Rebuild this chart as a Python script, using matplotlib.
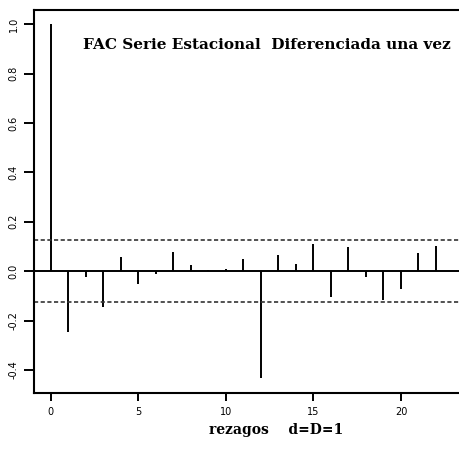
import numpy as np
import matplotlib.pyplot as plt

# FAC (autocorrelation) of the seasonal series, differenced once
lags = list(range(0, 23))
acf = [1.0, -0.247, -0.023, -0.144, 0.058, -0.051, -0.011, 0.077, 0.026, 0.004,
       0.010, 0.050, -0.434, 0.064, 0.030, 0.111, -0.104, 0.097, -0.023, -0.116,
       -0.070, 0.072, 0.104]
conf = 0.126
yticks = [-0.4, -0.2, 0.0, 0.2, 0.4, 0.6, 0.8, 1.0]
xticks = [0, 5, 10, 15, 20]

fig = plt.figure(figsize=(4.6, 4.57), dpi=100)
ax = fig.add_axes([0.074, 0.140, 0.95, 0.838])

ax.vlines(lags, 0, acf, color='black', linewidth=1.4)
ax.axhline(0, color='black', linewidth=1.4)
ax.axhline(conf, color='#333333', linewidth=1.2, linestyle=(0, (2.5, 1.5)))
ax.axhline(-conf, color='#333333', linewidth=1.2, linestyle=(0, (2.5, 1.5)))

ax.set_xlim(-0.94, 24.0)
ax.set_ylim(-0.493, 1.057)
ax.set_yticks(yticks)
ax.set_yticklabels([f"{v:.1f}" for v in yticks], rotation=90, va='center',
                   fontsize=7)
ax.set_xticks(xticks)
ax.set_xticklabels([str(v) for v in xticks], fontsize=7)
ax.tick_params(axis='y', direction='out', length=7, width=1.4, pad=4)
ax.tick_params(axis='x', direction='out', length=6, width=1.4, pad=4)

for s in ['left', 'bottom', 'top']:
    ax.spines[s].set_linewidth(1.5)
ax.spines['right'].set_visible(False)

fig.text(0.180, 0.901, "FAC Serie Estacional  Diferenciada una vez",
         family='DejaVu Serif', fontweight='bold', fontsize=11,
         ha='left', va='center')

fig.text(0.60, 0.059, "rezagos    d=D=1", family='DejaVu Serif',
         fontweight='bold', fontsize=10, ha='center', va='center')

fig.savefig("out.png", dpi=100, facecolor='white')
